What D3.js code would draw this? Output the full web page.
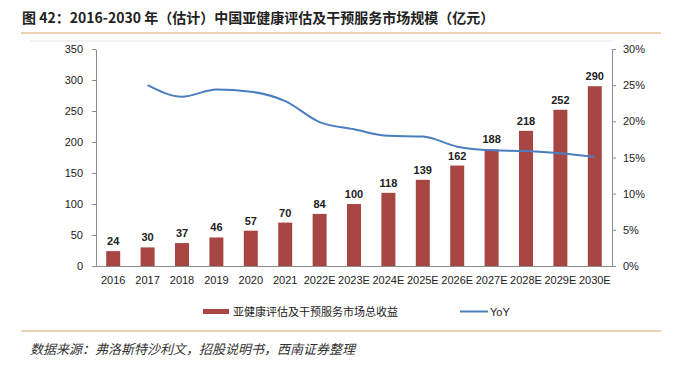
<!DOCTYPE html>
<html>
<head>
<meta charset="utf-8">
<script src="https://cdn.jsdelivr.net/npm/d3@7"></script>
<style>
  body { margin: 0; background: #fff; }
  svg { display: block; }
</style>
</head>
<body>
<svg width="687" height="373"></svg>
<script>
const years = ['2016', '2017', '2018', '2019', '2020', '2021', '2022E', '2023E', '2024E', '2025E', '2026E', '2027E', '2028E', '2029E', '2030E'];
const revenue = [24, 30, 37, 46, 57, 70, 84, 100, 118, 139, 162, 188, 218, 252, 290];
const yoy = [null, 25.0, 23.4, 24.4, 24.1, 22.8, 19.9, 18.9, 18.0, 17.9, 16.5, 16.0, 15.9, 15.6, 15.1];
const leftTicks = [0, 50, 100, 150, 200, 250, 300, 350];
const rightTicks = [0, 5, 10, 15, 20, 25, 30];

const title = '图 42：2016-2030 年（估计）中国亚健康评估及干预服务市场规模（亿元）';
const source = '数据来源：弗洛斯特沙利文，招股说明书，西南证券整理';
const barName = '亚健康评估及干预服务市场总收益';
const lineName = 'YoY';

const svg = d3.select('svg');
const font = '"Liberation Sans", Arial, sans-serif';
const cjk = '"Noto Sans CJK SC", sans-serif';

const margin = { left: 96, right: 612, top: 49, bottom: 266 };

// title and rules
svg.append('text')
  .attr('x', 22).attr('y', 23)
  .attr('font-family', cjk).attr('font-size', 14).attr('font-weight', 'bold')
  .attr('fill', '#222')
  .text(title);
svg.append('line').attr('x1', 21).attr('x2', 661).attr('y1', 33).attr('y2', 33)
  .attr('stroke', '#D9A465').attr('stroke-width', 1.2);
svg.append('line').attr('x1', 30).attr('x2', 612).attr('y1', 41).attr('y2', 41)
  .attr('stroke', '#e4e4e4').attr('stroke-width', 1);
svg.append('line').attr('x1', 21).attr('x2', 661).attr('y1', 331).attr('y2', 331)
  .attr('stroke', '#D9A465').attr('stroke-width', 1.2);
svg.append('text')
  .attr('x', 30).attr('y', 354)
  .attr('font-family', cjk).attr('font-size', 13).attr('font-style', 'italic')
  .attr('fill', '#333')
  .text(source);

// scales
const y = d3.scaleLinear().domain([0, 350]).range([margin.bottom, margin.top]);
const y2 = d3.scaleLinear().domain([0, 30]).range([margin.bottom, margin.top]);
const xb = d3.scaleBand().domain(years).range([margin.left, margin.right]);

// left axis
const gl = svg.append('g')
  .attr('transform', `translate(${margin.left},0)`)
  .call(d3.axisLeft(y).tickValues(leftTicks).tickSize(4).tickSizeOuter(0).tickPadding(9));
// right axis
const gr = svg.append('g')
  .attr('transform', `translate(${margin.right},0)`)
  .call(d3.axisRight(y2).tickValues(rightTicks).tickSize(4).tickSizeOuter(0).tickPadding(7)
    .tickFormat(d => d + '%'));
// bottom axis
const gb = svg.append('g')
  .attr('transform', `translate(0,${margin.bottom})`)
  .call(d3.axisBottom(xb).tickSize(0).tickPadding(10));

[gl, gr, gb].forEach(g => {
  g.select('.domain').attr('stroke', '#8c8c8c');
  g.selectAll('.tick line').attr('stroke', '#8c8c8c');
  g.selectAll('text').attr('font-family', font).attr('font-size', 11).attr('fill', '#222');
});

// bars
svg.append('g').selectAll('rect')
  .data(years)
  .join('rect')
  .attr('x', d => xb(d) + xb.bandwidth() / 2 - 7)
  .attr('width', 14)
  .attr('y', (d, i) => y(revenue[i]))
  .attr('height', (d, i) => margin.bottom - y(revenue[i]))
  .attr('fill', '#A84644');

svg.append('g').selectAll('text')
  .data(years)
  .join('text')
  .attr('x', d => xb(d) + xb.bandwidth() / 2)
  .attr('y', (d, i) => y(revenue[i]) - 6)
  .attr('text-anchor', 'middle')
  .attr('font-family', font).attr('font-size', 11).attr('font-weight', 'bold')
  .attr('fill', '#222')
  .text((d, i) => revenue[i]);

// line
const pts = years.map((d, i) => ({ k: d, v: yoy[i] })).filter(d => d.v !== null);
const line = d3.line()
  .x(d => xb(d.k) + xb.bandwidth() / 2)
  .y(d => y2(d.v))
  .curve(d3.curveMonotoneX);
svg.append('path')
  .datum(pts)
  .attr('fill', 'none')
  .attr('stroke', '#4A7EBF')
  .attr('stroke-width', 2)
  .attr('d', line);

// legend
const lg = svg.append('g');
lg.append('rect').attr('x', 203).attr('y', 309).attr('width', 26).attr('height', 5).attr('fill', '#A84644');
lg.append('text').attr('x', 233).attr('y', 315.5)
  .attr('font-family', cjk).attr('font-size', 11).attr('fill', '#222')
  .text(barName);
lg.append('line').attr('x1', 460).attr('x2', 488).attr('y1', 311.5).attr('y2', 311.5)
  .attr('stroke', '#4A7EBF').attr('stroke-width', 2);
lg.append('text').attr('x', 490).attr('y', 315.5)
  .attr('font-family', font).attr('font-size', 11).attr('fill', '#222')
  .text(lineName);
</script>
</body>
</html>
